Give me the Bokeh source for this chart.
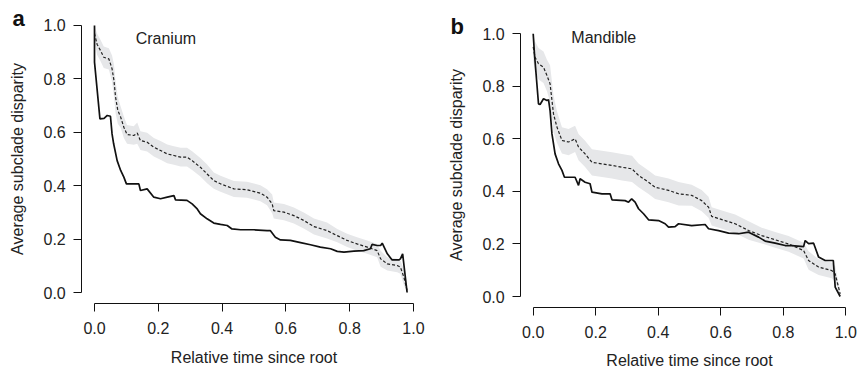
from bokeh.plotting import figure
from bokeh.layouts import row
from bokeh.models import Range1d, FixedTicker, PrintfTickFormatter, Label
from bokeh.embed import file_html
from bokeh.resources import INLINE

# ---------------- data ----------------
ticks = [0.0, 0.2, 0.4, 0.6, 0.8, 1.0]
x_title = "Relative time since root"
y_title = "Average subclade disparity"

# Panel a : Cranium
a_obs_x = [0, 0, 0.017, 0.03, 0.04, 0.05, 0.055, 0.06, 0.071, 0.082, 0.092, 0.10, 0.139, 0.144,
           0.165, 0.186, 0.207, 0.228, 0.249, 0.254, 0.29, 0.306, 0.322, 0.332, 0.353, 0.374,
           0.395, 0.416, 0.431, 0.458, 0.499, 0.541, 0.551, 0.567, 0.583, 0.614, 0.646, 0.677,
           0.708, 0.74, 0.761, 0.782, 0.813, 0.844, 0.865, 0.87, 0.886, 0.897, 0.902, 0.918,
           0.933, 0.954, 0.959, 0.966, 0.98]
a_obs_y = [1.0, 0.863, 0.65, 0.652, 0.663, 0.66, 0.594, 0.557, 0.494, 0.457, 0.432, 0.407, 0.407, 0.382,
           0.388, 0.357, 0.351, 0.357, 0.363, 0.347, 0.345, 0.332, 0.313, 0.295, 0.276, 0.26,
           0.255, 0.251, 0.238, 0.235, 0.235, 0.232, 0.232, 0.207, 0.197, 0.195, 0.187, 0.179,
           0.17, 0.164, 0.154, 0.151, 0.155, 0.157, 0.164, 0.18, 0.176, 0.176, 0.185, 0.145,
           0.122, 0.122, 0.126, 0.145, 0.0]

a_sim_x = [0, 0.008, 0.019, 0.029, 0.045, 0.055, 0.061, 0.066, 0.073, 0.082, 0.092, 0.102, 0.123,
           0.134, 0.144, 0.165, 0.186, 0.207, 0.228, 0.249, 0.27, 0.29, 0.306, 0.332, 0.353, 0.374,
           0.395, 0.437, 0.478, 0.52, 0.541, 0.557, 0.562, 0.594, 0.625, 0.656, 0.688, 0.729,
           0.761, 0.792, 0.823, 0.855, 0.886, 0.897, 0.918, 0.949, 0.959, 0.97, 0.98]
a_sim_y = [0.97, 0.93, 0.906, 0.881, 0.875, 0.838, 0.794, 0.732, 0.682, 0.657, 0.619, 0.592, 0.588,
           0.597, 0.569, 0.563, 0.544, 0.532, 0.519, 0.513, 0.507, 0.507, 0.494, 0.469, 0.444, 0.419,
           0.407, 0.388, 0.385, 0.372, 0.357, 0.332, 0.307, 0.301, 0.288, 0.27, 0.247, 0.232,
           0.213, 0.195, 0.182, 0.17, 0.157, 0.126, 0.107, 0.101, 0.095, 0.057, 0.007]
a_sim_hi = [1.0, 0.97, 0.946, 0.921, 0.915, 0.888, 0.854, 0.792, 0.732, 0.697, 0.659, 0.627, 0.623,
            0.637, 0.604, 0.598, 0.579, 0.567, 0.554, 0.548, 0.542, 0.542, 0.529, 0.504, 0.479, 0.449,
            0.437, 0.418, 0.415, 0.402, 0.387, 0.367, 0.337, 0.331, 0.318, 0.30, 0.277, 0.262,
            0.238, 0.22, 0.207, 0.195, 0.182, 0.156, 0.132, 0.126, 0.12, 0.087, 0.017]
a_sim_lo = [0.94, 0.89, 0.866, 0.841, 0.835, 0.788, 0.734, 0.672, 0.632, 0.617, 0.579, 0.557, 0.553,
            0.557, 0.534, 0.528, 0.509, 0.497, 0.484, 0.478, 0.472, 0.472, 0.459, 0.434, 0.409, 0.389,
            0.377, 0.358, 0.355, 0.342, 0.327, 0.297, 0.277, 0.271, 0.258, 0.24, 0.217, 0.202,
            0.188, 0.17, 0.157, 0.145, 0.132, 0.096, 0.082, 0.076, 0.07, 0.027, 0.0]

# Panel b : Mandible
b_obs_x = [0, 0.004, 0.017, 0.022, 0.033, 0.044, 0.049, 0.054, 0.06, 0.07, 0.081, 0.092, 0.10, 0.134,
           0.145, 0.15, 0.166, 0.182, 0.188, 0.22, 0.246, 0.252, 0.294, 0.305, 0.315, 0.326, 0.337,
           0.353, 0.369, 0.401, 0.422, 0.433, 0.454, 0.465, 0.507, 0.55, 0.561, 0.593, 0.625,
           0.657, 0.689, 0.721, 0.742, 0.774, 0.806, 0.827, 0.865, 0.87, 0.881, 0.897, 0.913,
           0.934, 0.96, 0.966, 0.982]
b_obs_y = [1.0, 0.924, 0.733, 0.731, 0.753, 0.746, 0.749, 0.708, 0.619, 0.543, 0.505, 0.48, 0.454, 0.454,
           0.423, 0.448, 0.435, 0.429, 0.397, 0.391, 0.391, 0.368, 0.365, 0.359, 0.372, 0.359, 0.334,
           0.315, 0.292, 0.289, 0.277, 0.264, 0.266, 0.277, 0.27, 0.274, 0.258, 0.251, 0.241,
           0.239, 0.245, 0.226, 0.211, 0.203, 0.194, 0.194, 0.19, 0.213, 0.201, 0.203, 0.15,
           0.137, 0.137, 0.036, 0.0]

b_sim_x = [0, 0.006, 0.017, 0.033, 0.044, 0.054, 0.065, 0.076, 0.092, 0.113, 0.134, 0.145, 0.166,
           0.188, 0.22, 0.252, 0.284, 0.316, 0.337, 0.369, 0.39, 0.433, 0.465, 0.507, 0.539, 0.561,
           0.571, 0.614, 0.646, 0.689, 0.731, 0.774, 0.817, 0.865, 0.881, 0.913, 0.955, 0.966, 0.982]
b_sim_y = [0.95, 0.911, 0.886, 0.873, 0.841, 0.81, 0.695, 0.645, 0.594, 0.588, 0.6, 0.569, 0.543,
           0.511, 0.505, 0.499, 0.492, 0.486, 0.461, 0.435, 0.416, 0.404, 0.391, 0.385, 0.365, 0.34,
           0.305, 0.289, 0.277, 0.251, 0.232, 0.216, 0.2, 0.175, 0.137, 0.112, 0.099, 0.086, 0.01]
b_sim_hi = [1.0, 0.971, 0.946, 0.933, 0.901, 0.88, 0.765, 0.705, 0.644, 0.638, 0.65, 0.619, 0.593,
            0.561, 0.555, 0.549, 0.542, 0.536, 0.506, 0.48, 0.461, 0.449, 0.436, 0.425, 0.405, 0.38,
            0.34, 0.324, 0.312, 0.286, 0.262, 0.246, 0.23, 0.205, 0.172, 0.142, 0.129, 0.116, 0.02]
b_sim_lo = [0.9, 0.851, 0.826, 0.813, 0.781, 0.74, 0.625, 0.585, 0.544, 0.538, 0.55, 0.519, 0.493,
            0.461, 0.455, 0.449, 0.442, 0.436, 0.416, 0.39, 0.371, 0.359, 0.346, 0.345, 0.325, 0.30,
            0.27, 0.254, 0.242, 0.216, 0.202, 0.186, 0.17, 0.145, 0.102, 0.082, 0.069, 0.056, 0.0]

panels = [
    dict(letter="a", name="Cranium", obs_x=a_obs_x, obs_y=a_obs_y, sim_x=a_sim_x, sim_y=a_sim_y,
         hi=a_sim_hi, lo=a_sim_lo),
    dict(letter="b", name="Mandible", obs_x=b_obs_x, obs_y=b_obs_y, sim_x=b_sim_x, sim_y=b_sim_y,
         hi=b_sim_hi, lo=b_sim_lo),
]

# ---------------- layout / style ----------------
FONT = "Liberation Sans"
FS = "16px"
TXT = "#222222"
W, H = 429, 370
# each panel's frame covers its whole canvas; axes sit at a fixed place inside it (R-style)
geom = [
    dict(xr=(-0.2947, 1.0502), yr=(-0.2921, 1.0936), xlab_standoff=11,
         letter_pos=(-0.257, 1.026), name_pos=(0.129, 0.953)),
    dict(xr=(-0.3317, 1.0406), yr=(-0.2817, 1.1268), xlab_standoff=10,
         letter_pos=(-0.2646, 1.027), name_pos=(0.122, 0.986)),
]

figs = []
for d, g in zip(panels, geom):
    p = figure(frame_width=W, frame_height=H, min_border=0,
               x_range=Range1d(*g["xr"]), y_range=Range1d(*g["yr"]),
               output_backend="svg", toolbar_location=None, frame_align=False,
               background_fill_color="white", border_fill_color="white")
    p.outline_line_color = None
    p.grid.visible = False

    p.varea(x=d["sim_x"], y1=d["lo"], y2=d["hi"], fill_color="#e6e7e9", fill_alpha=1.0)
    p.line(d["sim_x"], d["sim_y"], line_color="#222222", line_width=1.2, line_dash="3 2")
    p.line(d["obs_x"], d["obs_y"], line_color="#111111", line_width=1.7)

    for ax in (p.xaxis[0], p.yaxis[0]):
        ax.fixed_location = -0.04
        ax.bounds = (0, 1)
        ax.ticker = FixedTicker(ticks=ticks)
        ax.formatter = PrintfTickFormatter(format="%.1f")
        ax.minor_tick_line_color = None
        ax.major_tick_in = 0
        ax.major_tick_out = 8
        ax.axis_line_color = "#111111"
        ax.major_tick_line_color = "#111111"
        ax.major_label_text_font = FONT
        ax.major_label_text_font_size = FS
        ax.major_label_text_color = TXT
        ax.axis_label_text_font = FONT
        ax.axis_label_text_font_size = FS
        ax.axis_label_text_font_style = "normal"
        ax.axis_label_text_color = TXT
    p.xaxis[0].axis_label = x_title
    p.yaxis[0].axis_label = y_title
    p.yaxis[0].major_label_orientation = "horizontal"
    p.xaxis[0].major_label_standoff = 11
    p.yaxis[0].major_label_standoff = 8
    p.xaxis[0].axis_label_standoff = g["xlab_standoff"]
    p.yaxis[0].axis_label_standoff = 14

    lx, ly = g["letter_pos"]
    p.add_layout(Label(x=lx, y=ly, text=d["letter"], text_font=FONT, text_font_size="22px",
                       text_font_style="bold", text_color="#111111", text_baseline="alphabetic"))
    nx, ny = g["name_pos"]
    p.add_layout(Label(x=nx, y=ny, text=d["name"], text_font=FONT, text_font_size=FS,
                       text_color=TXT, text_baseline="alphabetic"))
    figs.append(p)

layout = row(*figs)
open("out.html", "w").write(file_html(layout, INLINE))
